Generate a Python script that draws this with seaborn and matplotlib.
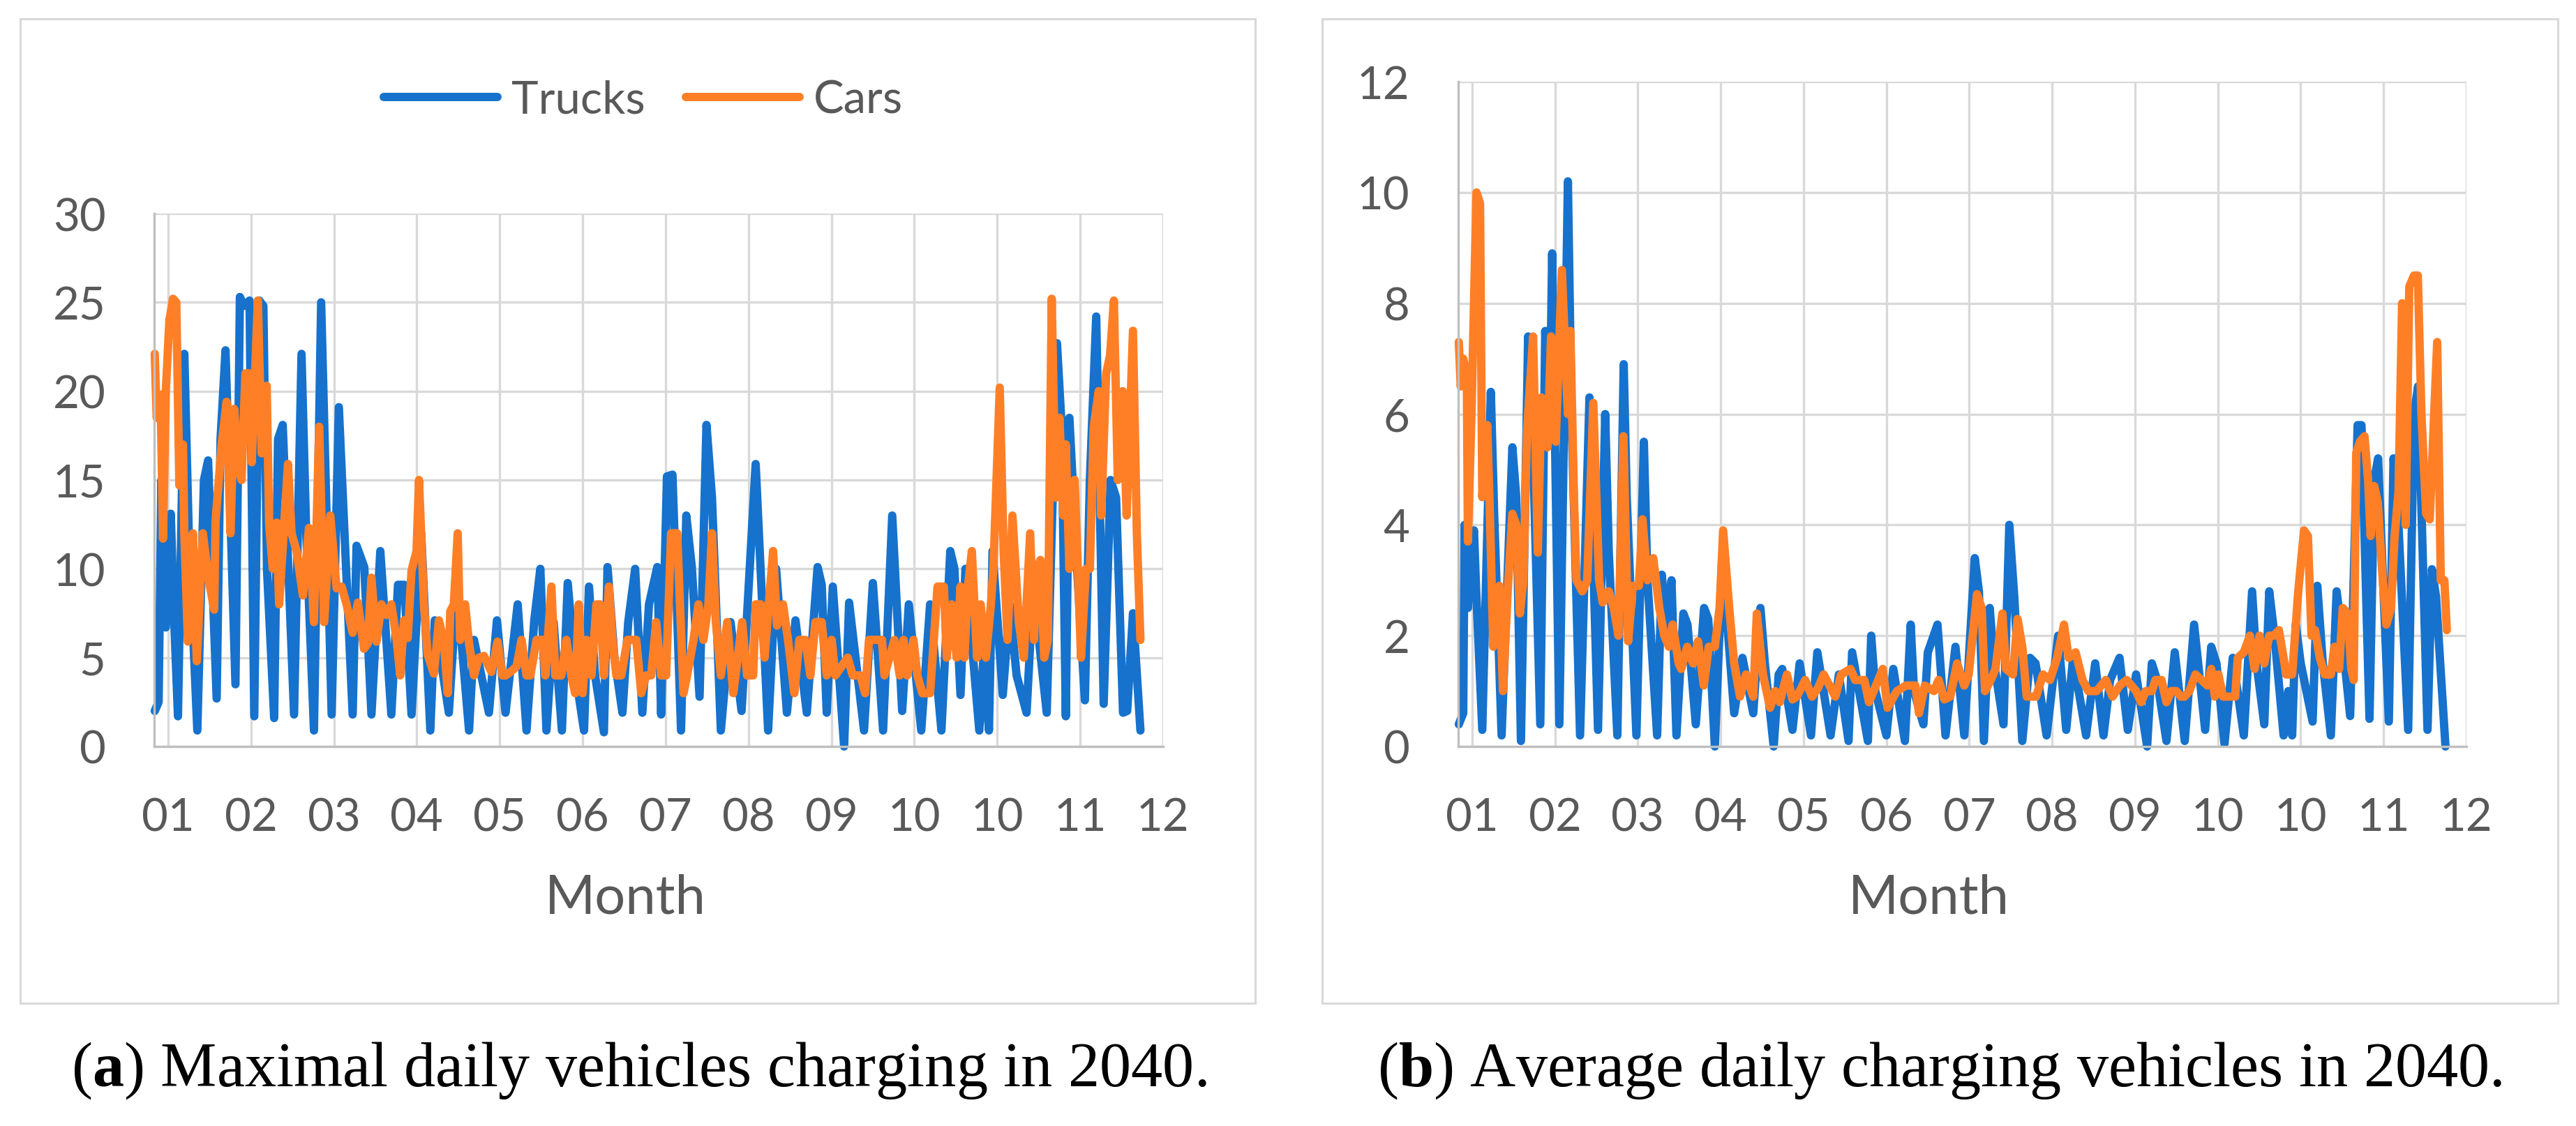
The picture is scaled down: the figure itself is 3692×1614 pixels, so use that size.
import matplotlib
matplotlib.use("Agg")
import matplotlib.pyplot as plt
import matplotlib.patches as mpatches
import pandas as pd
import seaborn as sns

# x = day of the year 2040 (0 = 1 Jan); Excel date axis, major unit 30 days
tick_days = [4, 34, 64, 94, 124, 154, 184, 214, 244, 274, 304, 334, 364]
tick_labels = ["01", "02", "03", "04", "05", "06", "07", "08", "09", "10", "10", "11", "12"]

# (a) maximal daily vehicles charging - trucks
max_trucks_day = [-0.8, 0.6, 1.6, 3.2, 5.0, 6.0, 7.6, 9.9, 11.5, 14.6, 17.0, 18.5, 21.6, 23.0, 24.8,
                  28.4, 30.0, 31.5, 33.5, 35.2, 37.0, 38.5, 39.8, 42.4, 43.8, 45.5, 49.6, 52.3, 54.0,
                  56.8, 59.4, 63.2, 65.8, 70.8, 72.2, 75.0, 77.6, 80.8, 84.8, 87.2, 89.5, 92.1, 95.6,
                  98.9, 100.5, 105.6, 108.5, 112.9, 114.7, 120.1, 123.0, 126.1, 130.5, 133.7, 136.5,
                  138.7, 140.9, 143.5, 146.5, 148.6, 151.5, 154.5, 156.3, 158.5, 161.7, 163.0, 165.5,
                  168.4, 170.5, 173.0, 175.6, 178.0, 181.0, 182.4, 184.5, 186.5, 189.6, 191.5, 193.5,
                  196.3, 198.8, 200.8, 204.0, 207.5, 211.5, 216.6, 221.1, 224.0, 227.9, 231.0, 235.1,
                  239.0, 240.5, 242.3, 244.5, 248.6, 250.4, 255.8, 259.0, 262.7, 266.0, 269.6, 272.0,
                  276.5, 279.7, 283.8, 287.0, 288.5, 290.7, 292.5, 297.5, 299.0, 301.0, 302.3, 306.0,
                  308.5, 311.0, 314.6, 317.0, 321.9, 325.6, 327.3, 328.8, 330.1, 332.9, 335.7, 337.5,
                  339.8, 342.5, 345.0, 347.0, 349.5, 351.0, 353.1, 355.8]
max_trucks = [2.0, 2.5, 15.0, 6.7, 13.1, 8.0, 1.7, 22.1, 12.0, 0.9, 15.0, 16.1, 2.7, 17.3, 22.3,
              3.5, 25.3, 24.8, 25.1, 1.7, 25.1, 24.8, 10.0, 1.6, 17.3, 18.1, 1.8, 22.1, 12.0,
              0.9, 25.0, 1.8, 19.1, 1.8, 11.3, 10.1, 1.8, 11.0, 1.8, 9.1, 9.1, 1.8, 12.0,
              0.9, 7.1, 1.9, 9.0, 0.9, 6.0, 1.9, 7.1, 1.9, 8.0, 0.9, 7.1,
              10.0, 0.9, 7.0, 0.9, 9.2, 4.0, 0.9, 9.0, 4.0, 0.8, 10.1, 5.0,
              1.9, 7.0, 10.0, 1.9, 8.0, 10.1, 1.8, 15.2, 15.3, 0.9, 13.0, 10.1,
              2.8, 18.1, 14.0, 0.9, 7.0, 2.0, 15.9, 0.9, 10.0, 1.9, 7.1, 1.9,
              10.1, 9.1, 1.9, 9.0, 0.0, 8.1, 0.9, 9.2, 0.9, 13.0, 2.0, 8.0,
              0.9, 8.0, 0.9, 11.0, 10.0, 2.9, 10.0, 0.9, 5.0, 0.9, 11.0, 2.9,
              8.0, 4.0, 1.9, 9.0, 1.9, 22.7, 18.0, 1.7, 18.5, 10.0, 2.6, 15.0,
              24.2, 2.4, 15.0, 14.0, 1.9, 2.0, 7.5, 0.9]

# (a) maximal daily vehicles charging - cars
max_cars_day = [-0.8, -0.1, 1.3, 2.2, 3.2, 4.5, 5.8, 7.0, 8.1, 9.4, 9.9, 11.2, 13.0, 14.4, 16.6,
                18.5, 20.7, 21.2, 23.4, 25.2, 26.6, 27.9, 29.7, 30.6, 32.0, 33.4, 34.3, 36.5, 37.9,
                39.7, 40.6, 41.9, 43.3, 44.2, 47.4, 48.7, 50.5, 52.8, 55.0, 56.8, 58.7, 60.5, 62.7,
                65.0, 66.8, 68.6, 70.8, 72.7, 74.9, 76.3, 77.6, 79.4, 81.2, 83.0, 84.8, 86.7, 88.0,
                89.4, 90.7, 92.1, 93.9, 94.8, 96.6, 97.9, 100.2, 102.0, 103.8, 105.2, 106.1, 107.4,
                108.8, 109.7, 111.5, 112.9, 114.7, 116.5, 118.3, 121.0, 123.2, 125.0,
                126.1, 127.9, 130.1, 131.9, 133.7, 135.1, 137.3, 139.6, 140.5, 142.7, 144.1, 146.3,
                148.1, 149.9, 151.3, 152.6, 154.0, 155.4, 157.2, 159.0, 160.3, 161.7, 163.5, 164.8,
                166.2, 168.0, 170.2, 173.4, 175.2, 177.0, 178.8, 180.6, 182.4, 184.2, 186.0, 188.2,
                190.5, 191.8, 194.1, 195.9, 197.7, 199.5, 200.8, 202.2, 204.0, 206.3, 208.5, 211.7,
                213.5, 215.7, 216.6, 218.4, 219.8, 222.9, 224.3, 226.5, 228.3, 230.6, 232.4, 234.6,
                236.4, 238.2, 240.5, 242.3, 244.1, 245.4, 249.9, 251.7, 254.5, 256.2, 257.6, 259.9,
                260.4, 262.3, 263.2, 266.8, 268.7, 270.1, 271.4, 273.7, 275.1, 276.9, 279.7, 282.4,
                284.7, 285.7, 287.5, 289.3, 290.7, 292.1, 293.4, 294.8, 296.7, 298.0, 299.9, 301.7,
                302.6, 304.9, 306.3, 307.7, 309.5, 311.8, 313.6, 315.9, 317.3, 318.2, 319.6, 321.0,
                322.3, 323.7, 325.1, 326.5, 327.9, 328.8, 330.1, 332.0, 334.3, 336.1, 337.5, 338.9,
                340.7, 341.6, 343.4, 344.8, 346.2, 347.6, 349.4, 350.8, 353.1, 354.5, 355.8]
max_cars = [22.1, 18.5, 19.8, 11.7, 20.0, 24.0, 25.2, 25.0, 14.7, 17.0, 12.0, 5.9, 12.0, 4.8, 12.0,
            9.6, 7.7, 12.7, 17.0, 19.4, 12.0, 19.0, 15.5, 15.0, 21.0, 21.0, 16.0, 25.1, 16.5,
            20.3, 12.5, 10.0, 12.6, 8.0, 15.9, 12.0, 11.0, 8.5, 12.3, 7.0, 18.0, 7.0, 13.0,
            8.9, 9.0, 8.0, 6.4, 8.1, 5.5, 5.8, 9.5, 5.9, 8.0, 7.4, 8.0, 6.0, 4.0,
            7.1, 6.1, 9.9, 11.0, 15.0, 8.0, 5.2, 4.1, 7.1, 5.9, 3.0, 7.6, 8.0,
            12.0, 6.0, 8.0, 5.8, 4.0, 5.0, 5.1, 4.2, 5.9, 4.0,
            4, 4.2, 4.5, 6, 4, 4, 6, 6, 4, 9, 4, 4,
            6, 4, 3, 8, 3, 6, 4, 8, 8, 4, 9, 6,
            4, 4, 6, 6, 3, 4, 4, 7, 4, 4, 12, 12,
            3, 4, 6, 8, 6, 8, 12, 7, 4, 7, 3, 7,
            4, 4, 8, 8, 5, 11, 6.8, 8, 6, 3, 6, 6,
            4, 7, 7, 4, 6, 4, 5, 4, 4, 3, 6, 6,
            6, 6, 4, 6, 4, 6, 4, 6, 4, 3, 3, 9,
            9, 5, 8, 5, 9, 5, 9, 11, 5, 8, 5, 8,
            10, 20.2, 11, 6, 13, 7, 5, 12, 6, 10, 10.5, 5,
            6, 25.2, 14, 18.5, 13, 17, 10, 15, 5, 10, 10, 18,
            20, 13, 21, 22, 25.1, 15, 20, 13, 23.4, 12, 6]

# (b) average daily charging vehicles - trucks
avg_trucks_day = [-0.8, 0.8, 1.3, 2.5, 3.5, 4.7, 5.5, 7.7, 10.8, 12.0,
                  14.7, 18.6, 20.0, 21.7, 24.3, 26.0, 28.7, 30.5, 32.0, 33.0,
                  35.6, 38.7, 40.0, 43.1, 46.5, 47.5, 49.6, 52.2, 53.5, 56.6,
                  58.9, 60.0, 63.5, 66.2, 67.5, 71.0, 72.7, 74.5, 76.2, 78.0,
                  80.5, 82.0, 85.0, 88.0, 89.5, 91.9, 94.0, 95.5, 98.9, 101.9,
                  105.8, 108.4, 110.0, 113.2, 115.0, 116.3, 120.0, 122.6, 126.7, 129.0,
                  133.8, 136.8, 140.3, 141.6, 147.3, 148.5, 150.0, 154.0, 156.5, 160.7,
                  162.8, 164.0, 167.4, 169.0, 172.5, 175.4, 179.0, 182.2, 186.0, 187.5,
                  189.3, 191.4, 193.0, 196.4, 198.5, 200.3, 203.2, 206.0, 208.0, 212.0,
                  216.2, 219.1, 221.6, 226.3, 229.6, 232.6, 235.0, 238.4, 241.4, 244.4,
                  248.4, 250.1, 252.0, 255.4, 258.4, 262.0, 265.4, 269.4, 271.6, 273.5,
                  276.4, 279.4, 283.4, 286.4, 288.0, 290.8, 292.6, 294.5, 297.8, 299.5,
                  300.9, 302.2, 304.0, 308.3, 310.0, 312.0, 314.9, 317.0, 318.5, 321.9,
                  324.6, 326.0, 328.9, 330.6, 332.0, 335.9, 337.6, 339.0, 342.9, 345.0,
                  346.5, 349.9, 351.5, 353.0, 356.4]
avg_trucks = [0.4, 0.6, 4.0, 2.5, 3.5, 3.9, 2.8, 0.3, 6.4, 4.2,
              0.2, 5.4, 4.5, 0.1, 7.4, 5.5, 0.4, 7.5, 5.5, 8.9,
              0.4, 10.2, 6.0, 0.2, 6.3, 4.0, 0.3, 6.0, 3.5, 0.2,
              6.9, 4.5, 0.2, 5.5, 3.0, 0.2, 3.1, 2.0, 3.0, 0.2,
              2.4, 2.2, 0.4, 2.5, 2.3, 0.0, 2.6, 2.8, 0.6, 1.6,
              0.6, 2.5, 1.5, 0.0, 1.3, 1.4, 0.3, 1.5, 0.2, 1.7,
              0.2, 1.3, 0.1, 1.7, 0.1, 2.0, 1.0, 0.2, 1.4, 0.1,
              2.2, 1.0, 0.4, 1.7, 2.2, 0.2, 1.8, 0.2, 3.4, 2.8,
              0.1, 2.5, 1.5, 0.4, 4.0, 2.7, 0.1, 1.6, 1.5, 0.2,
              2.0, 0.3, 1.6, 0.2, 1.5, 0.2, 1.2, 1.6, 0.3, 1.3,
              0.0, 1.5, 1.2, 0.1, 1.7, 0.1, 2.2, 0.3, 1.8, 1.5,
              0.05, 1.6, 0.2, 2.8, 1.5, 0.4, 2.8, 2.0, 0.2, 1.0,
              0.2, 2.2, 1.5, 0.45, 2.9, 1.5, 0.2, 2.8, 2.2, 0.55,
              5.8, 5.8, 0.5, 4.8, 5.2, 0.45, 5.2, 4.4, 0.3, 6.0,
              6.5, 0.3, 3.2, 2.7, 0.0]

# (b) average daily charging vehicles - cars
avg_cars_day = [-0.8, -0.1, 0.8, 2.1, 2.5, 3.8, 5.6, 6.9, 7.7, 9.5,
                10.4, 11.7, 13.9, 15.2, 16.9, 18.6, 20.0, 21.3, 22.6, 23.9,
                26.1, 27.8, 29.1, 31.3, 32.6, 34.3, 36.5, 38.7, 39.6, 40.9,
                41.8, 43.9, 45.7, 47.9, 50.0, 51.3, 53.5, 55.3, 57.0, 58.8,
                60.5, 62.2, 64.4, 65.7, 67.5, 69.6, 71.8, 73.6, 75.3, 76.6,
                78.8, 79.7, 81.9, 84.0, 85.8, 87.9, 89.7, 91.9, 93.6, 94.9,
                97.1, 98.9, 101.0, 103.2, 105.8, 107.1, 109.3, 111.9, 113.7, 115.4,
                118.0,
                120.0, 121.6, 124.6, 127.1, 129.2, 131.3, 133.4, 135.5, 137.6, 141.0,
                142.7, 146.0, 147.7, 149.4, 152.7, 154.4, 157.8, 161.1, 164.5, 165.8,
                167.9, 171.2, 172.9, 175.0, 177.1, 179.6, 182.2, 183.8, 186.8, 188.5,
                189.7, 191.8, 193.5, 196.0, 197.3, 199.8, 201.5, 203.2, 204.8, 208.2,
                210.7, 213.2, 215.8, 218.3, 220.0, 222.5, 225.0, 227.1, 230.1, 233.4,
                235.9, 238.5, 241.0,
                244.4, 246.2, 247.9, 250.1, 251.4, 253.6, 255.4, 257.1, 258.9, 260.6,
                261.9, 263.7, 265.9, 268.1, 270.2, 271.6, 272.9, 274.2, 275.9, 278.6,
                280.3, 281.2, 283.4, 285.6, 287.3, 289.1, 290.8, 292.6, 294.3, 296.1,
                297.8, 298.7, 300.9, 303.1, 305.2, 306.6, 307.9, 309.2, 310.9, 312.7,
                314.9, 316.2, 317.9, 319.2, 321.0, 322.3, 323.2, 324.1, 325.4, 327.1,
                328.4, 329.3, 330.6, 331.9, 333.7, 335.0, 336.7, 338.0, 339.4, 340.7,
                342.0, 343.3, 345.0, 346.4, 347.7, 349.4, 350.7, 353.4, 354.7, 356.0, 356.9]
avg_cars = [7.3, 6.5, 7.0, 6.7, 3.7, 6.0, 10.0, 9.8, 4.5, 5.8,
            4.3, 1.8, 2.9, 1.0, 2.8, 4.2, 4.0, 2.4, 3.0, 5.7,
            7.4, 3.5, 6.3, 5.4, 7.4, 5.5, 8.6, 6.0, 7.5, 4.5,
            3.0, 2.8, 3.0, 6.2, 3.0, 2.6, 2.8, 2.5, 2.0, 5.6,
            1.9, 2.9, 2.9, 4.1, 3.0, 3.4, 2.5, 2.0, 1.8, 2.2,
            1.5, 1.4, 1.8, 1.5, 1.9, 1.1, 1.8, 1.8, 2.5, 3.9,
            2.5, 1.5, 0.9, 1.3, 0.9, 2.4, 1.3, 0.7, 1.0, 0.8,
            1.3,
            0.85, 0.9, 1.2, 0.9, 1.05, 1.3, 1.1, 0.9, 1.3, 1.4,
            1.2, 1.2, 0.8, 1.0, 1.4, 0.7, 1.0, 1.1, 1.1, 0.6,
            1.1, 1.0, 1.2, 0.85, 0.9, 1.5, 1.1, 1.3, 2.75, 2.5,
            1.0, 1.2, 1.4, 2.4, 1.4, 1.3, 2.3, 1.8, 0.9, 0.9,
            1.3, 1.2, 1.6, 2.2, 1.6, 1.7, 1.2, 1.0, 1.0, 1.2,
            0.9, 1.1, 1.2,
            1.0, 0.8, 1.0, 1.0, 1.2, 1.2, 0.8, 1.0, 1.0, 0.9,
            0.9, 1.0, 1.3, 1.2, 1.1, 1.4, 0.9, 1.3, 0.9, 0.9,
            0.9, 1.6, 1.7, 2.0, 1.4, 2.0, 1.5, 2.0, 2.0, 2.1,
            1.6, 1.3, 1.3, 2.8, 3.9, 3.8, 2.0, 2.1, 1.6, 1.3,
            1.3, 1.8, 1.4, 2.5, 2.4, 1.4, 1.2, 5.3, 5.5, 5.6,
            4.8, 3.8, 4.7, 4.4, 3.0, 2.2, 2.5, 3.8, 4.6, 8.0,
            4.0, 8.3, 8.5, 8.5, 6.0, 4.2, 4.1, 7.3, 3.0, 3.0, 2.1]

W, H = 3692, 1615
BLUE = "#1672CC"
ORANGE = "#FF7F27"
GRID = "#d9d9d9"
TXT = "#595959"
LW = 8.6

sns.set_theme(style="white")
plt.rcParams["font.family"] = ["Lato", "DejaVu Sans"]
plt.rcParams["mathtext.fontset"] = "custom"
plt.rcParams["mathtext.rm"] = "Liberation Serif"
plt.rcParams["mathtext.bf"] = "Liberation Serif:bold"


def fx(px):
    return px / W


def fy(py):
    return 1 - py / H


def draw_panel(ax, t_day, t_val, c_day, c_val, ymax, ystep):
    trucks = pd.DataFrame({"day": t_day, "value": t_val})
    cars = pd.DataFrame({"day": c_day, "value": c_val})
    common = dict(estimator=None, sort=False, lw=LW, clip_on=False,
                  solid_joinstyle="round", solid_capstyle="round")
    sns.lineplot(data=trucks, x="day", y="value", ax=ax, color=BLUE, label="Trucks", **common)
    sns.lineplot(data=cars, x="day", y="value", ax=ax, color=ORANGE, label="Cars", **common)
    ax.get_legend().remove()

    ax.set_xlim(-1, 364)
    ax.set_ylim(0, ymax)
    ax.set_xticks(tick_days)
    ax.set_xticklabels(tick_labels)
    ax.set_yticks(range(0, ymax + 1, ystep))
    ax.grid(True, color=GRID, lw=2.4)
    ax.set_axisbelow(True)
    for s in ["top", "right"]:
        ax.spines[s].set_visible(False)
    for s in ["left", "bottom"]:
        ax.spines[s].set_color("#bfbfbf")
        ax.spines[s].set_linewidth(2.4)
    ax.tick_params(length=0, labelsize=47, labelcolor=TXT)
    ax.tick_params(axis="x", pad=52)
    ax.tick_params(axis="y", pad=50)
    ax.set_xlabel("")
    ax.set_ylabel("")


fig = plt.figure(figsize=(W / 100, H / 100), dpi=100)
fig.patch.set_facecolor("white")

# chart frames
for x0, x1 in [(29, 1799), (1895, 3666)]:
    fig.add_artist(mpatches.Rectangle((fx(x0), fy(1439)), fx(x1) - fx(x0), fy(28) - fy(1439),
                                      transform=fig.transFigure, fill=False,
                                      edgecolor=GRID, lw=2.2))

ax_a = fig.add_axes([fx(221), fy(1071), fx(1667) - fx(221), fy(307) - fy(1071)])
ax_b = fig.add_axes([fx(2090), fy(1071), fx(3535) - fx(2090), fy(118) - fy(1071)])

draw_panel(ax_a, max_trucks_day, max_trucks, max_cars_day, max_cars, 30, 5)
draw_panel(ax_b, avg_trucks_day, avg_trucks, avg_cars_day, avg_cars, 12, 2)

handles, labels = ax_a.get_legend_handles_labels()
ax_a.legend(handles, labels, loc="center", bbox_to_anchor=(fx(922), fy(144)),
            bbox_transform=fig.transFigure, ncol=2, frameon=False, fontsize=47,
            handlelength=2.5, handletextpad=0.3, columnspacing=0.9, labelcolor=TXT)

fig.text(fx(896), fy(1288), "Month", ha="center", va="center", fontsize=56, color=TXT)
fig.text(fx(2764), fy(1288), "Month", ha="center", va="center", fontsize=56, color=TXT)

fig.text(fx(916), fy(1535), r"($\mathbf{a}$) Maximal daily vehicles charging in 2040.",
         ha="center", va="center", fontsize=65, family="Liberation Serif", color="black")
fig.text(fx(2780), fy(1535), r"($\mathbf{b}$) Average daily charging vehicles in 2040.",
         ha="center", va="center", fontsize=65, family="Liberation Serif", color="black")

fig.savefig("out.png", dpi=100, facecolor="white")
